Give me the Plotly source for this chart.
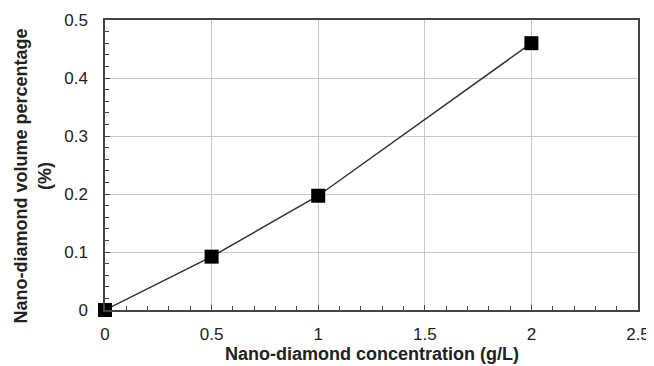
import plotly.graph_objects as go

concentration = [0, 0.5, 1, 2]
volume_pct = [0.0, 0.092, 0.197, 0.460]

x_title = "Nano-diamond concentration (g/L)"
y_title = "Nano-diamond volume percentage<br>(%)"

FONT = "Liberation Sans, Arial"

fig = go.Figure()
fig.add_trace(go.Scatter(
    x=concentration, y=volume_pct, mode="lines+markers",
    line=dict(color="#333333", width=1.5),
    marker=dict(symbol="square", size=14, color="black"),
    cliponaxis=False,
))

axis_common = dict(
    showline=True, linecolor="#444444", linewidth=1.5, mirror=True,
    showgrid=True, gridcolor="#c8c8c8", gridwidth=1,
    ticks="inside", ticklen=5, tickcolor="#444444",
    zeroline=False, automargin=False,
    tickfont=dict(family=FONT, size=17, color="#222222"),
)

fig.update_layout(
    width=654, height=366,
    margin=dict(l=97, r=24, t=12, b=64),
    paper_bgcolor="white", plot_bgcolor="white",
    showlegend=False,
    xaxis=dict(range=[0, 2.5], dtick=0.5, tickformat="~g", ticklabelstandoff=8,
               minor=dict(dtick=0.1, ticks="inside", ticklen=4, tickcolor="#444444", showgrid=False),
               **axis_common),
    yaxis=dict(range=[0, 0.5], dtick=0.1, tickformat="~g", ticklabelstandoff=12,
               minor=dict(dtick=0.02, ticks="inside", ticklen=4, tickcolor="#444444", showgrid=False),
               **axis_common),
    annotations=[
        dict(
            text="<b>" + y_title.replace("<br>", "</b><br><b>") + "</b>",
            xref="paper", yref="paper", x=0, y=0.46, xshift=-72,
            xanchor="center", yanchor="middle", textangle=-90, showarrow=False,
            font=dict(family=FONT, size=18, color="#222222"),
        ),
        dict(
            text="<b>" + x_title + "</b>",
            xref="paper", yref="paper", x=0.5, y=0, yshift=-44,
            xanchor="center", yanchor="middle", showarrow=False,
            font=dict(family=FONT, size=18, color="#222222"),
        ),
    ],
)

fig.write_html("out.html")
